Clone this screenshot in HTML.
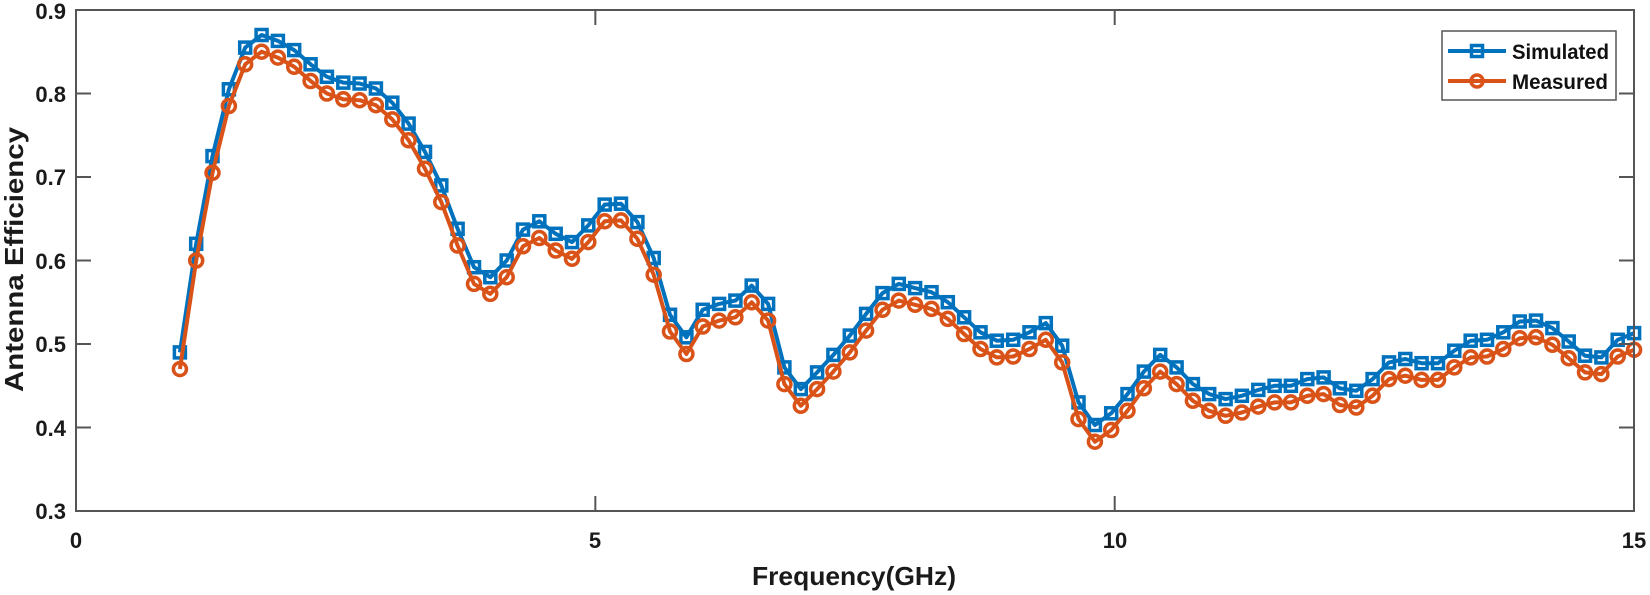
<!DOCTYPE html>
<html><head><meta charset="utf-8"><style>
html,body{margin:0;padding:0;background:#fff;}
svg{display:block;font-family:"Liberation Sans",Arial,sans-serif;font-weight:bold;}
</style></head><body>
<svg id="s" width="1650" height="595" viewBox="0 0 1650 595" xmlns="http://www.w3.org/2000/svg">
<rect x="0" y="0" width="1650" height="595" fill="#fff"/>
<g id="plot"></g>
<rect x="76" y="10" width="1558" height="501" fill="none" stroke="#555" stroke-width="2"/>
<g id="ticks" stroke="#555" stroke-width="2"></g>
<g font-size="22" fill="#1a1a1a" text-anchor="end">
<text x="66" y="519">0.3</text>
<text x="66" y="436">0.4</text>
<text x="66" y="352">0.5</text>
<text x="66" y="269">0.6</text>
<text x="66" y="185">0.7</text>
<text x="66" y="102">0.8</text>
<text x="66" y="19">0.9</text>
</g>
<g font-size="22" fill="#1a1a1a" text-anchor="middle">
<text x="76" y="548">0</text>
<text x="595" y="548">5</text>
<text x="1115" y="548">10</text>
<text x="1634" y="548">15</text>
</g>
<text x="752" y="585" font-size="26" textLength="204" lengthAdjust="spacingAndGlyphs" fill="#1a1a1a">Frequency(GHz)</text>
<text transform="translate(23,392) rotate(-90)" font-size="26" textLength="265" lengthAdjust="spacingAndGlyphs" fill="#1a1a1a">Antenna Efficiency</text>
<rect x="1442" y="31" width="174" height="69" fill="#fff" stroke="#555" stroke-width="1.5"/>
<line x1="1448" y1="51" x2="1506" y2="51" stroke="#0072bd" stroke-width="4"/>
<rect x="1471.5" y="45.5" width="11" height="11" fill="none" stroke="#0072bd" stroke-width="3.5"/>
<line x1="1448" y1="81" x2="1506" y2="81" stroke="#d95319" stroke-width="4"/>
<circle cx="1477" cy="81" r="6" fill="none" stroke="#d95319" stroke-width="3.5"/>
<text x="1512" y="59" font-size="21" fill="#111" textLength="97" lengthAdjust="spacingAndGlyphs">Simulated</text>
<text x="1512" y="89" font-size="21" fill="#111" textLength="96" lengthAdjust="spacingAndGlyphs">Measured</text>
</svg>
<script>
var v=[0.49,0.62,0.725,0.805,0.855,0.87,0.863,0.852,0.835,0.82,0.813,0.812,0.806,0.789,0.764,0.73,0.69,0.638,0.592,0.58,0.6,0.637,0.647,0.632,0.622,0.642,0.667,0.668,0.646,0.603,0.535,0.508,0.541,0.548,0.552,0.57,0.548,0.472,0.446,0.466,0.487,0.51,0.536,0.561,0.572,0.567,0.562,0.55,0.532,0.514,0.504,0.505,0.514,0.525,0.498,0.43,0.403,0.417,0.44,0.467,0.487,0.472,0.452,0.44,0.434,0.438,0.445,0.45,0.45,0.458,0.46,0.447,0.444,0.458,0.478,0.482,0.477,0.477,0.492,0.504,0.505,0.514,0.527,0.528,0.519,0.503,0.486,0.484,0.505,0.513];
var N=v.length,X=function(f){return 76+f*103.87},Y=function(a){return 511-(a-0.3)*835};
var g=document.getElementById('plot'),h='';
var pb='',po='';
for(var i=0;i<N;i++){var f=1+14*i/(N-1);var x=X(f);var yb=Y(v[i]);var yo=Y(v[i]-0.02);
pb+=(i?'L':'M')+x.toFixed(1)+' '+yb.toFixed(1);po+=(i?'L':'M')+x.toFixed(1)+' '+yo.toFixed(1);}
h+='<path d="'+pb+'" fill="none" stroke="#0072bd" stroke-width="4" stroke-linejoin="round"/>';
for(var i=0;i<N;i++){var f=1+14*i/(N-1);h+='<rect x="'+(X(f)-5.5).toFixed(1)+'" y="'+(Y(v[i])-5.5).toFixed(1)+'" width="11" height="11" fill="none" stroke="#0072bd" stroke-width="3.5"/>';}
h+='<path d="'+po+'" fill="none" stroke="#d95319" stroke-width="4" stroke-linejoin="round"/>';
for(var i=0;i<N;i++){var f=1+14*i/(N-1);h+='<circle cx="'+X(f).toFixed(1)+'" cy="'+Y(v[i]-0.02).toFixed(1)+'" r="6.5" fill="none" stroke="#d95319" stroke-width="3.5"/>';}
g.innerHTML=h;
var t='';
for(var k=1;k<6;k++){var y=Y(0.3+k*0.1);t+='<line x1="76" y1="'+y+'" x2="91" y2="'+y+'"/><line x1="1619" y1="'+y+'" x2="1634" y2="'+y+'"/>';}
[5,10].forEach(function(f){var x=X(f);t+='<line x1="'+x+'" y1="511" x2="'+x+'" y2="496"/><line x1="'+x+'" y1="10" x2="'+x+'" y2="25"/>';});
document.getElementById('ticks').innerHTML=t;
</script>
</body></html>
